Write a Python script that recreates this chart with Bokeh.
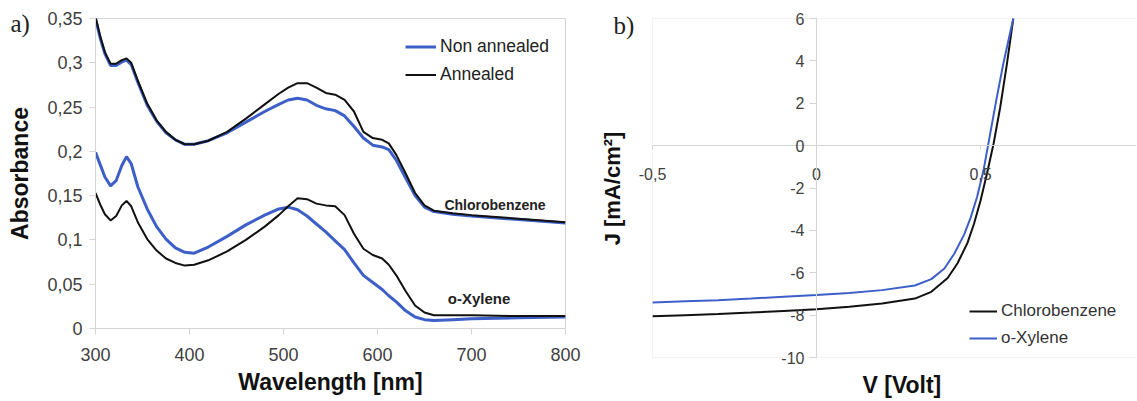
from bokeh.plotting import figure
from bokeh.models import (Range1d, FixedTicker, CustomJSTickFormatter, Label, Title,
                          Legend, LegendItem, ColumnDataSource, LinearAxis, BoxAnnotation)
from bokeh.layouts import row
from bokeh.embed import file_html
from bokeh.resources import INLINE

# ---------------- data: panel a) absorbance ----------------
wavelength = [300, 305, 310, 316, 322, 328, 333, 338, 345, 355, 365, 375, 385, 395,
              405, 420, 440, 460, 480, 495, 505, 515, 525, 535, 545, 555, 565, 575,
              585, 595, 605, 612, 620, 630, 640, 650, 660, 680, 700, 750, 800]
cb_non_annealed = [0.350, 0.328, 0.310, 0.297, 0.297, 0.301, 0.303, 0.298, 0.278, 0.252,
                   0.234, 0.221, 0.213, 0.208, 0.208, 0.212, 0.221, 0.233, 0.245, 0.253,
                   0.258, 0.260, 0.258, 0.252, 0.248, 0.246, 0.240, 0.228, 0.215, 0.207,
                   0.205, 0.202, 0.190, 0.170, 0.150, 0.137, 0.132, 0.129, 0.127, 0.123,
                   0.119]
cb_annealed = [0.352, 0.330, 0.312, 0.299, 0.299, 0.303, 0.305, 0.300, 0.280, 0.254,
               0.235, 0.222, 0.213, 0.208, 0.208, 0.212, 0.222, 0.237, 0.253, 0.265,
               0.272, 0.277, 0.277, 0.272, 0.266, 0.264, 0.258, 0.245, 0.222, 0.215,
               0.213, 0.209, 0.196, 0.175, 0.153, 0.139, 0.133, 0.130, 0.128, 0.124,
               0.120]
ox_non_annealed = [0.199, 0.185, 0.171, 0.161, 0.167, 0.184, 0.194, 0.186, 0.160, 0.135,
                   0.115, 0.101, 0.091, 0.086, 0.085, 0.092, 0.104, 0.117, 0.128, 0.135,
                   0.137, 0.134, 0.127, 0.118, 0.109, 0.099, 0.089, 0.074, 0.060, 0.052,
                   0.044, 0.037, 0.030, 0.020, 0.013, 0.010, 0.009, 0.010, 0.011, 0.012,
                   0.013]
ox_annealed = [0.153, 0.140, 0.129, 0.122, 0.127, 0.139, 0.144, 0.138, 0.120, 0.101,
               0.088, 0.079, 0.074, 0.071, 0.072, 0.077, 0.087, 0.100, 0.115, 0.128,
               0.138, 0.147, 0.146, 0.141, 0.139, 0.138, 0.128, 0.107, 0.090, 0.083,
               0.079, 0.072, 0.060, 0.042, 0.026, 0.018, 0.015, 0.015, 0.015, 0.014,
               0.014]
abs_ticks = [0, 0.05, 0.1, 0.15, 0.2, 0.25, 0.3, 0.35]
wl_ticks = [300, 400, 500, 600, 700, 800]

# ---------------- data: panel b) J-V ----------------
v_cb = [-0.5, -0.4, -0.3, -0.2, -0.1, 0.0, 0.1, 0.2, 0.3, 0.35, 0.4, 0.43, 0.46, 0.48,
        0.50, 0.52, 0.54, 0.56, 0.58, 0.60]
j_cb = [-8.05, -8.0, -7.95, -7.88, -7.8, -7.72, -7.6, -7.45, -7.22, -6.9, -6.25, -5.55,
        -4.6, -3.7, -2.6, -1.3, 0.1, 1.8, 3.8, 6.0]
v_ox = [-0.5, -0.4, -0.3, -0.2, -0.1, 0.0, 0.1, 0.2, 0.3, 0.35, 0.39, 0.42, 0.45, 0.47,
        0.49, 0.51, 0.53, 0.55, 0.57, 0.60]
j_ox = [-7.4, -7.35, -7.3, -7.22, -7.13, -7.05, -6.95, -6.82, -6.6, -6.3, -5.8, -5.1,
        -4.2, -3.4, -2.4, -1.1, 0.6, 2.3, 3.9, 6.0]
v_ticks = [-0.5, 0, 0.5, 1.0]
j_ticks = [-10, -8, -6, -4, -2, 0, 2, 4, 6]

BLUE = "#3d5fc8"
BLACK = "#111111"
GRID = "#d4d4d4"
TICKC = "#404040"
SANS = "Liberation Sans"
SERIF = "Liberation Serif"

comma = CustomJSTickFormatter(code="return tick.toString().replace('.', ',');")

# ================= panel a =================
p1 = figure(width=595, height=400, x_range=Range1d(300, 800), y_range=Range1d(0, 0.35),
            output_backend="svg", toolbar_location=None, frame_align=False,
            min_border_left=95, min_border_right=30, min_border_top=18, min_border_bottom=72)
p1.grid.visible = False
p1.outline_line_color = GRID
p1.background_fill_color = "white"
p1.border_fill_color = "white"

# panel tag "a)"
p1.title.text = "a)"
p1.title.align = "left"
p1.title.offset = -85
p1.title.vertical_align = "bottom"
p1.title.standoff = -36
p1.title.text_font = SERIF
p1.title.text_font_size = "25px"
p1.title.text_font_style = "normal"
p1.title.text_color = "#222222"

src1 = ColumnDataSource(dict(wl=wavelength, cbn=cb_non_annealed, cba=cb_annealed,
                             oxn=ox_non_annealed, oxa=ox_annealed))
r_cbn = p1.line("wl", "cbn", source=src1, line_color=BLUE, line_width=3)
r_oxn = p1.line("wl", "oxn", source=src1, line_color=BLUE, line_width=3)
r_cba = p1.line("wl", "cba", source=src1, line_color=BLACK, line_width=2)
r_oxa = p1.line("wl", "oxa", source=src1, line_color=BLACK, line_width=2)

for ax in (p1.xaxis, p1.yaxis):
    ax.axis_line_color = GRID
    ax.major_tick_line_color = GRID
    ax.minor_tick_line_color = None
    ax.major_tick_in = 0
    ax.major_tick_out = 6
    ax.major_label_text_font = SANS
    ax.major_label_text_font_size = "18px"
    ax.major_label_text_color = TICKC
    ax.formatter = comma
    ax.axis_label_text_font = SANS
    ax.axis_label_text_font_size = "23px"
    ax.axis_label_text_font_style = "bold"
    ax.axis_label_text_color = "#111111"
p1.xaxis.ticker = FixedTicker(ticks=wl_ticks)
p1.yaxis.ticker = FixedTicker(ticks=abs_ticks)
p1.xaxis.major_label_standoff = 13
p1.yaxis.major_label_standoff = 7
p1.xaxis.axis_label = "Wavelength [nm]"
p1.yaxis.axis_label = "Absorbance"
p1.xaxis.axis_label_standoff = 5
p1.yaxis.axis_label_standoff = 11

leg1 = Legend(items=[LegendItem(label="Non annealed", renderers=[r_cbn]),
                     LegendItem(label="Annealed", renderers=[r_cba])],
              location="top_right", border_line_color=None, background_fill_alpha=0,
              label_text_font=SANS, label_text_font_size="17.5px", label_text_color="#222222",
              glyph_width=31, label_standoff=4, label_height=25, glyph_height=25,
              spacing=3, padding=14, margin=16)
p1.add_layout(leg1)

p1.add_layout(Label(x=725, y=0.1395, text="Chlorobenzene", text_font=SANS,
                    text_font_size="14px", text_font_style="bold", text_align="center",
                    text_baseline="middle", text_color="#222222"))
p1.add_layout(Label(x=708, y=0.0339, text="o-Xylene", text_font=SANS,
                    text_font_size="15px", text_font_style="bold", text_align="center",
                    text_baseline="middle", text_color="#222222"))

# ================= panel b =================
p2 = figure(width=541, height=400, x_range=Range1d(-0.54878, 0.97561),
            y_range=Range1d(-10.519, 6.472),
            output_backend="svg", toolbar_location=None, frame_align=False,
            min_border_left=41, min_border_right=0, min_border_top=8, min_border_bottom=32)
p2.grid.visible = False
p2.outline_line_color = None
p2.background_fill_color = "white"
p2.border_fill_color = "white"

p2.title.text = "b)"
p2.title.align = "left"
p2.title.offset = -23
p2.title.vertical_align = "bottom"
p2.title.standoff = -60
p2.title.text_font = SERIF
p2.title.text_font_size = "25px"
p2.title.text_font_style = "normal"
p2.title.text_color = "#222222"

p2.add_layout(BoxAnnotation(left=-0.5, right=1.0, bottom=-10, top=6, fill_alpha=0,
                            line_color=GRID, line_width=1))

r_jcb = p2.line(v_cb, j_cb, line_color=BLACK, line_width=2)
r_jox = p2.line(v_ox, j_ox, line_color=BLUE, line_width=2)

xa = p2.below[0]
ya = p2.left[0]
for ax in (xa, ya):
    ax.fixed_location = 0
    ax.axis_line_color = GRID
    ax.major_tick_line_color = GRID
    ax.minor_tick_line_color = None
    ax.major_tick_in = 0
    ax.major_label_text_font = SANS
    ax.major_label_text_font_size = "16px"
    ax.major_label_text_color = TICKC
    ax.formatter = comma
xa.ticker = FixedTicker(ticks=v_ticks)
ya.ticker = FixedTicker(ticks=j_ticks)
xa.bounds = (-0.5, 1.0)
ya.bounds = (-10, 6)
xa.major_tick_out = 4
xa.major_label_standoff = 18
ya.major_tick_out = 7
ya.major_label_standoff = 5

ylab = LinearAxis(axis_label="J [mA/cm²]", ticker=FixedTicker(ticks=[]),
                  axis_line_color=None, major_tick_line_color=None,
                  minor_tick_line_color=None, major_tick_out=0, major_label_standoff=0,
                  axis_label_standoff=12, axis_label_text_font=SANS,
                  axis_label_text_font_size="22px", axis_label_text_font_style="bold",
                  axis_label_text_color="#111111")
p2.add_layout(ylab, "left")

vtitle = Title(text="V [Volt]", align="left", offset=226, vertical_align="bottom",
               standoff=3, text_font=SANS, text_font_size="23px", text_font_style="bold",
               text_color="#111111")
p2.add_layout(vtitle, "below")

leg2 = Legend(items=[LegendItem(label="Chlorobenzene", renderers=[r_jcb]),
                     LegendItem(label="o-Xylene", renderers=[r_jox])],
              location=(333, 18), border_line_color=None, background_fill_alpha=0,
              label_text_font=SANS, label_text_font_size="17px", label_text_color="#333333",
              glyph_width=28, label_standoff=4, label_height=24, glyph_height=24,
              spacing=3, padding=8, margin=0)
p2.add_layout(leg2)

layout = row(p1, p2)
open("out.html", "w").write(file_html(layout, INLINE))
